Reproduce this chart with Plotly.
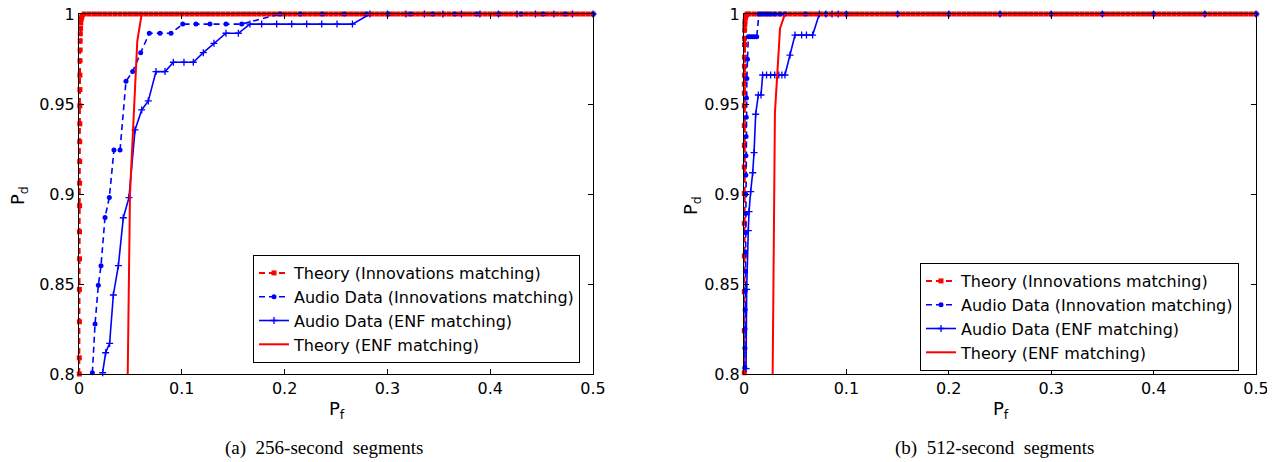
import plotly.graph_objects as go

# ---------------- data: (a) 256-second segments ----------------
theory_innov_a_pf_rise = [0.0003, 0.0003, 0.0004, 0.0004, 0.0005, 0.0005, 0.0006, 0.0006, 0.0007, 0.0007,
                          0.0008, 0.0008, 0.0009, 0.0009, 0.0010, 0.0011, 0.0012, 0.0013, 0.0015, 0.0017,
                          0.0020, 0.0025, 0.0030]
theory_innov_a_pd_rise = [0.800, 0.809, 0.829, 0.847, 0.864, 0.879, 0.8935, 0.906, 0.918, 0.929,
                          0.939, 0.949, 0.958, 0.966, 0.974, 0.980, 0.985, 0.989, 0.992, 0.995,
                          0.997, 0.998, 0.999]

# common Pf grid along the top (theory curves)
theory_pf_top = [0.005, 0.01, 0.015, 0.02, 0.025, 0.03, 0.035, 0.04, 0.045, 0.05,
                 0.055, 0.06, 0.065, 0.07, 0.075, 0.08, 0.085, 0.09, 0.095, 0.1,
                 0.105, 0.11, 0.115, 0.12, 0.125, 0.13, 0.135, 0.14, 0.145, 0.15,
                 0.155, 0.16, 0.165, 0.17, 0.175, 0.18, 0.185, 0.19, 0.195, 0.2,
                 0.205, 0.21, 0.215, 0.22, 0.225, 0.23, 0.235, 0.24, 0.245, 0.25,
                 0.255, 0.26, 0.265, 0.27, 0.275, 0.28, 0.285, 0.29, 0.295, 0.3,
                 0.305, 0.31, 0.315, 0.32, 0.325, 0.33, 0.335, 0.34, 0.345, 0.35,
                 0.355, 0.36, 0.365, 0.37, 0.375, 0.38, 0.385, 0.39, 0.395, 0.4,
                 0.405, 0.41, 0.415, 0.42, 0.425, 0.43, 0.435, 0.44, 0.445, 0.45,
                 0.455, 0.46, 0.465, 0.47, 0.475, 0.48, 0.485, 0.49, 0.495, 0.5]
theory_pd_top = [1, 1, 1, 1, 1, 1, 1, 1, 1, 1,
                 1, 1, 1, 1, 1, 1, 1, 1, 1, 1,
                 1, 1, 1, 1, 1, 1, 1, 1, 1, 1,
                 1, 1, 1, 1, 1, 1, 1, 1, 1, 1,
                 1, 1, 1, 1, 1, 1, 1, 1, 1, 1,
                 1, 1, 1, 1, 1, 1, 1, 1, 1, 1,
                 1, 1, 1, 1, 1, 1, 1, 1, 1, 1,
                 1, 1, 1, 1, 1, 1, 1, 1, 1, 1,
                 1, 1, 1, 1, 1, 1, 1, 1, 1, 1,
                 1, 1, 1, 1, 1, 1, 1, 1, 1, 1]

audio_innov_a_pf = [0.0130, 0.0156, 0.0188, 0.0214, 0.0253, 0.0295, 0.0340, 0.0399, 0.0457, 0.0522,
                    0.0600, 0.0684, 0.0788, 0.0895, 0.1009, 0.1138, 0.1274, 0.1430, 0.1583, 0.1955,
                    0.2154, 0.2366, 0.2580, 0.2795, 0.3010, 0.3225, 0.3440, 0.3655, 0.3870, 0.4085,
                    0.4300, 0.4515, 0.4730, 0.5000]
audio_innov_a_pd = [0.8007, 0.8278, 0.8493, 0.8602, 0.8870, 0.8980, 0.9244, 0.9244, 0.9626, 0.9680,
                    0.9785, 0.9893, 0.9893, 0.9893, 0.9944, 0.9944, 0.9944, 0.9944, 0.9944, 1.0,
                    1.0, 1.0, 1.0, 1.0, 1.0, 1.0, 1.0, 1.0, 1.0, 1.0,
                    1.0, 1.0, 1.0, 1.0]

audio_enf_a_pf = [0.0230, 0.0259, 0.0298, 0.0334, 0.0383, 0.0431, 0.0486, 0.0545, 0.0610, 0.0674,
                  0.0749, 0.0837, 0.0918, 0.1021, 0.1112, 0.1209, 0.1313, 0.1430, 0.1550, 0.1663,
                  0.1777, 0.1923, 0.2069, 0.2215, 0.2361, 0.2510, 0.2660, 0.2830, 0.3000, 0.3180,
                  0.3360, 0.3540, 0.3720, 0.3900, 0.4080, 0.4260, 0.4440, 0.4620, 0.4800, 0.5000]
audio_enf_a_pd = [0.8007, 0.8118, 0.8170, 0.8439, 0.8602, 0.8868, 0.8980, 0.9356, 0.9467, 0.9517,
                  0.9680, 0.9680, 0.9732, 0.9732, 0.9732, 0.9785, 0.9837, 0.9893, 0.9893, 0.9944,
                  0.9944, 0.9944, 0.9944, 0.9944, 0.9944, 0.9944, 0.9944, 1.0, 1.0, 1.0,
                  1.0, 1.0, 1.0, 1.0, 1.0, 1.0, 1.0, 1.0, 1.0, 1.0]

theory_enf_a_pf = [0.0474, 0.0496, 0.0567, 0.0610, 0.5]
theory_enf_a_pd = [0.800, 0.900, 0.985, 1.0, 1.0]

# ---------------- data: (b) 512-second segments ----------------
theory_innov_b_pf_rise = [0.0003, 0.0003, 0.0003, 0.0003, 0.0003, 0.0003, 0.0003, 0.0003, 0.0003, 0.0003,
                          0.0003, 0.0003, 0.0004, 0.0004, 0.0004, 0.0005, 0.0005, 0.0006, 0.0008, 0.0010,
                          0.0014, 0.0020, 0.0030]
theory_innov_b_pd_rise = [0.8007, 0.824, 0.8457, 0.8656, 0.8837, 0.9003, 0.915, 0.927, 0.938, 0.949,
                          0.956, 0.961, 0.966, 0.971, 0.976, 0.983, 0.9865, 0.991, 0.994, 0.996,
                          0.998, 0.999, 1.0]

audio_innov_b_pf = [0.0008, 0.0009, 0.0010, 0.0011, 0.0012, 0.0013, 0.0014, 0.0015, 0.0016, 0.0017,
                    0.0018, 0.0019, 0.0020, 0.0022, 0.0024, 0.0028, 0.0034, 0.0042, 0.0060, 0.0080,
                    0.0100, 0.0124, 0.0146, 0.0170, 0.0200, 0.0230, 0.0260, 0.0300, 0.0350, 0.0400,
                    0.0600, 0.0800, 0.1000, 0.1500, 0.2000, 0.2500, 0.3000, 0.3500, 0.4000, 0.4500,
                    0.5000]
audio_innov_b_pd = [0.8036, 0.8143, 0.8250, 0.8357, 0.8464, 0.8571, 0.8678, 0.8785, 0.8892, 0.8999,
                    0.9106, 0.9213, 0.9320, 0.9427, 0.9534, 0.9641, 0.9748, 0.9874, 0.9874, 0.9874,
                    0.9874, 0.9874, 1.0, 1.0, 1.0, 1.0, 1.0, 1.0, 1.0, 1.0,
                    1.0, 1.0, 1.0, 1.0, 1.0, 1.0, 1.0, 1.0, 1.0, 1.0,
                    1.0]

audio_enf_b_pf = [0.0020, 0.0026, 0.0042, 0.0049, 0.0065, 0.0085, 0.0098, 0.0114, 0.0140, 0.0166,
                  0.0182, 0.0220, 0.0260, 0.0300, 0.0340, 0.0370, 0.0400, 0.0449, 0.0498, 0.0563,
                  0.0610, 0.0670, 0.0736, 0.0800, 0.0860, 0.0920, 0.1000, 0.1500, 0.2000, 0.2500,
                  0.3000, 0.3500, 0.4000, 0.4500, 0.5000]
audio_enf_b_pd = [0.8030, 0.8470, 0.8796, 0.8902, 0.9013, 0.9118, 0.9230, 0.9443, 0.9550, 0.9550,
                  0.9661, 0.9661, 0.9661, 0.9661, 0.9661, 0.9661, 0.9661, 0.9772, 0.9883, 0.9883,
                  0.9883, 0.9883, 1.0, 1.0, 1.0, 1.0, 1.0, 1.0, 1.0, 1.0,
                  1.0, 1.0, 1.0, 1.0, 1.0]

theory_enf_b_pf = [0.0280, 0.0296, 0.0302, 0.0352, 0.0390, 0.0400, 0.5]
theory_enf_b_pd = [0.800, 0.900, 0.945, 0.992, 0.999, 1.0, 1.0]

x_ticks = [0, 0.1, 0.2, 0.3, 0.4, 0.5]
x_tick_text = ["0", "0.1", "0.2", "0.3", "0.4", "0.5"]
y_ticks = [0.8, 0.85, 0.9, 0.95, 1.0]
y_tick_text = ["0.8", "0.85", "0.9", "0.95", "1"]

names_a = ["Theory (Innovations matching)", "Audio Data (Innovations matching)",
           "Audio Data (ENF matching)", "Theory (ENF matching)"]
names_b = ["Theory (Innovations matching)", "Audio Data (Innovation matching)",
           "Audio Data (ENF matching)", "Theory (ENF matching)"]
captions = ["(a)&nbsp;&nbsp;256-second&nbsp;&nbsp;segments", "(b)&nbsp;&nbsp;512-second&nbsp;&nbsp;segments"]

RED = "#ff0000"
BLUE = "#0000ff"
FONT = "DejaVu Sans, Arial, sans-serif"

fig = go.Figure()


def add_panel(xa, ya, leg, names, th_pf, th_pd, ai_pf, ai_pd, ae_pf, ae_pd, te_pf, te_pd):
    fig.add_trace(go.Scatter(x=th_pf, y=th_pd, xaxis=xa, yaxis=ya, legend=leg, name=names[0],
                             mode="lines+markers", cliponaxis=False,
                             line=dict(color=RED, width=2, dash="6px,4px"),
                             marker=dict(symbol="square", size=5, color=RED)))
    fig.add_trace(go.Scatter(x=ai_pf, y=ai_pd, xaxis=xa, yaxis=ya, legend=leg, name=names[1],
                             mode="lines+markers", cliponaxis=False,
                             line=dict(color=BLUE, width=1.6, dash="6px,4px"),
                             marker=dict(symbol="circle", size=5, color=BLUE)))
    fig.add_trace(go.Scatter(x=ae_pf, y=ae_pd, xaxis=xa, yaxis=ya, legend=leg, name=names[2],
                             mode="lines+markers", cliponaxis=False,
                             line=dict(color=BLUE, width=1.6),
                             marker=dict(symbol="cross-thin", size=5, color=BLUE,
                                         line=dict(color=BLUE, width=1.3))))
    fig.add_trace(go.Scatter(x=te_pf, y=te_pd, xaxis=xa, yaxis=ya, legend=leg, name=names[3],
                             mode="lines", cliponaxis=False,
                             line=dict(color=RED, width=2)))


add_panel("x", "y", "legend", names_a,
          theory_innov_a_pf_rise + theory_pf_top, theory_innov_a_pd_rise + theory_pd_top,
          audio_innov_a_pf, audio_innov_a_pd, audio_enf_a_pf, audio_enf_a_pd,
          theory_enf_a_pf, theory_enf_a_pd)
add_panel("x2", "y2", "legend2", names_b,
          theory_innov_b_pf_rise + theory_pf_top, theory_innov_b_pd_rise + theory_pd_top,
          audio_innov_b_pf, audio_innov_b_pd, audio_enf_b_pf, audio_enf_b_pd,
          theory_enf_b_pf, theory_enf_b_pd)

# the page body has an 8px margin: the figure is drawn at (8, 8) in the window
OFF = 8
W, H = 1275 - OFF, 462 - OFF


def px_x(p):
    return (p - OFF) / W


def px_y(p):
    return 1 - (p - OFF) / H


axis_common = dict(showline=True, linecolor="black", linewidth=1, mirror="ticks",
                   ticks="inside", ticklen=5, tickcolor="black", tickwidth=1,
                   showgrid=False, zeroline=False, automargin=False,
                   ticklabeloverflow="allow",
                   tickfont=dict(family=FONT, size=16, color="black"))

legend_common = dict(xanchor="left", yanchor="top", bgcolor="white",
                     bordercolor="black", borderwidth=1,
                     font=dict(family=FONT, size=16, color="black"), tracegroupgap=0)

fig.update_layout(
    template="none",
    width=W, height=H,
    margin=dict(l=0, r=0, t=0, b=0, autoexpand=False),
    paper_bgcolor="white", plot_bgcolor="white",
    xaxis=dict(domain=[px_x(79), px_x(593)], range=[0, 0.5], anchor="y",
               tickvals=x_ticks, ticktext=x_tick_text, **axis_common),
    yaxis=dict(domain=[px_y(374), px_y(14)], range=[0.8, 1.0], anchor="x",
               tickvals=y_ticks, ticktext=y_tick_text, **axis_common),
    xaxis2=dict(domain=[px_x(744), px_x(1256)], range=[0, 0.5], anchor="y2",
                tickvals=x_ticks, ticktext=x_tick_text, **axis_common),
    yaxis2=dict(domain=[px_y(374), px_y(14)], range=[0.8, 1.0], anchor="x2",
                tickvals=y_ticks, ticktext=y_tick_text, **axis_common),
    legend=dict(x=px_x(253), y=px_y(255), **legend_common),
    legend2=dict(x=px_x(920), y=px_y(263), **legend_common),
    showlegend=True,
)

ann_font = dict(family=FONT, size=18, color="black")
cap_font = dict(family="Liberation Serif, Times New Roman, serif", size=19, color="black")
ann_common = dict(xref="paper", yref="paper", showarrow=False, xanchor="center", yanchor="middle")
fig.add_annotation(text="P<sub>f</sub>", x=px_x(337), y=px_y(410), font=ann_font, **ann_common)
fig.add_annotation(text="P<sub>f</sub>", x=px_x(1001), y=px_y(410), font=ann_font, **ann_common)
fig.add_annotation(text="P<sub>d</sub>", x=px_x(19), y=px_y(196), font=ann_font, textangle=-90, **ann_common)
fig.add_annotation(text="P<sub>d</sub>", x=px_x(692), y=px_y(206), font=ann_font, textangle=-90, **ann_common)
fig.add_annotation(text=captions[0], x=px_x(324), y=px_y(448), font=cap_font, **ann_common)
fig.add_annotation(text=captions[1], x=px_x(994), y=px_y(448), font=cap_font, **ann_common)

fig.write_html("out.html")
